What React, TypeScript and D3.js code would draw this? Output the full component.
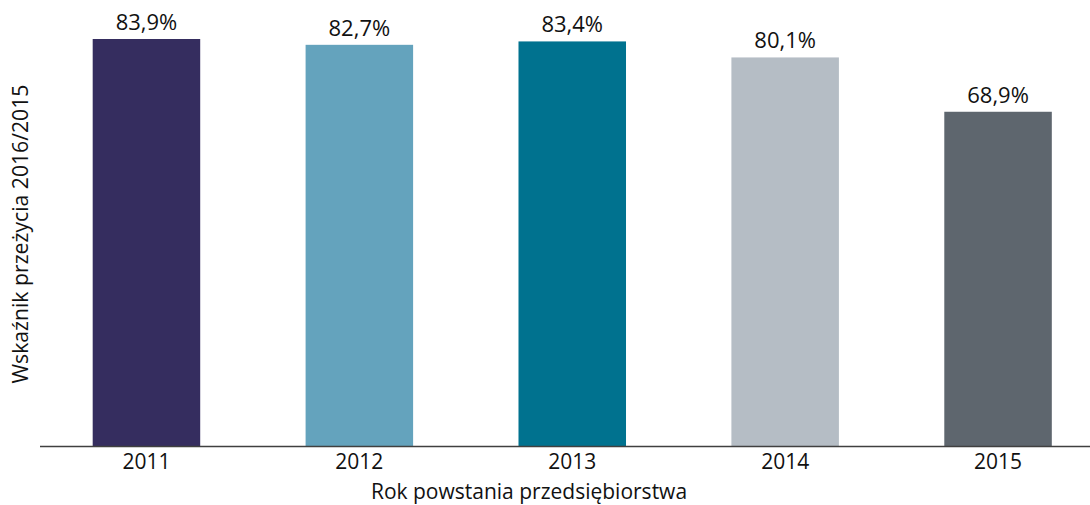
import React from "react";
import * as d3 from "d3";

const years = ["2011", "2012", "2013", "2014", "2015"];
const values = [83.9, 82.7, 83.4, 80.1, 68.9];
const colors = ["#352D5F", "#64A3BD", "#00728F", "#B5BDC5", "#5E666E"];
const yTitle = "Wskaźnik przeżycia 2016/2015";
const xTitle = "Rok powstania przedsiębiorstwa";

const W = 1090;
const H = 505;
const FONT = "'Open Sans', 'DejaVu Sans', sans-serif";

export default function App() {
  const x = d3.scaleBand<string>().domain(years).range([40, 1104.5]).paddingInner(0.495).paddingOuter(0.2475);
  const y = d3.scaleLinear().domain([0, 83.9]).range([446, 39]);
  const fmt = (v: number) => v.toFixed(1).replace(".", ",") + "%";
  return (
    <svg width={W} height={H} style={{ position: "absolute", left: 0, top: 0, background: "#fff" }}>
      {years.map((yr, i) => (
        <rect key={yr} x={x(yr)} y={y(values[i])} width={x.bandwidth()} height={y(0) - y(values[i])} fill={colors[i]} />
      ))}
      <line x1={40} x2={W} y1={446.5} y2={446.5} stroke="#404040" strokeWidth={1.3} />
      {years.map((yr, i) => (
        <text key={"v" + yr} x={(x(yr) as number) + x.bandwidth() / 2} y={y(values[i]) - 9} textAnchor="middle" fontFamily={FONT} fontSize={22} fill="#111">
          {fmt(values[i])}
        </text>
      ))}
      {years.map((yr) => (
        <text key={"l" + yr} x={(x(yr) as number) + x.bandwidth() / 2} y={469} textAnchor="middle" fontFamily={FONT} fontSize={21} fill="#111">
          {yr}
        </text>
      ))}
      <text x={529} y={499} textAnchor="middle" fontFamily={FONT} fontSize={21} fill="#111">
        {xTitle}
      </text>
      <text transform="translate(28,234) rotate(-90)" textAnchor="middle" fontFamily={FONT} fontSize={21.2} fill="#111">
        {yTitle}
      </text>
    </svg>
  );
}
